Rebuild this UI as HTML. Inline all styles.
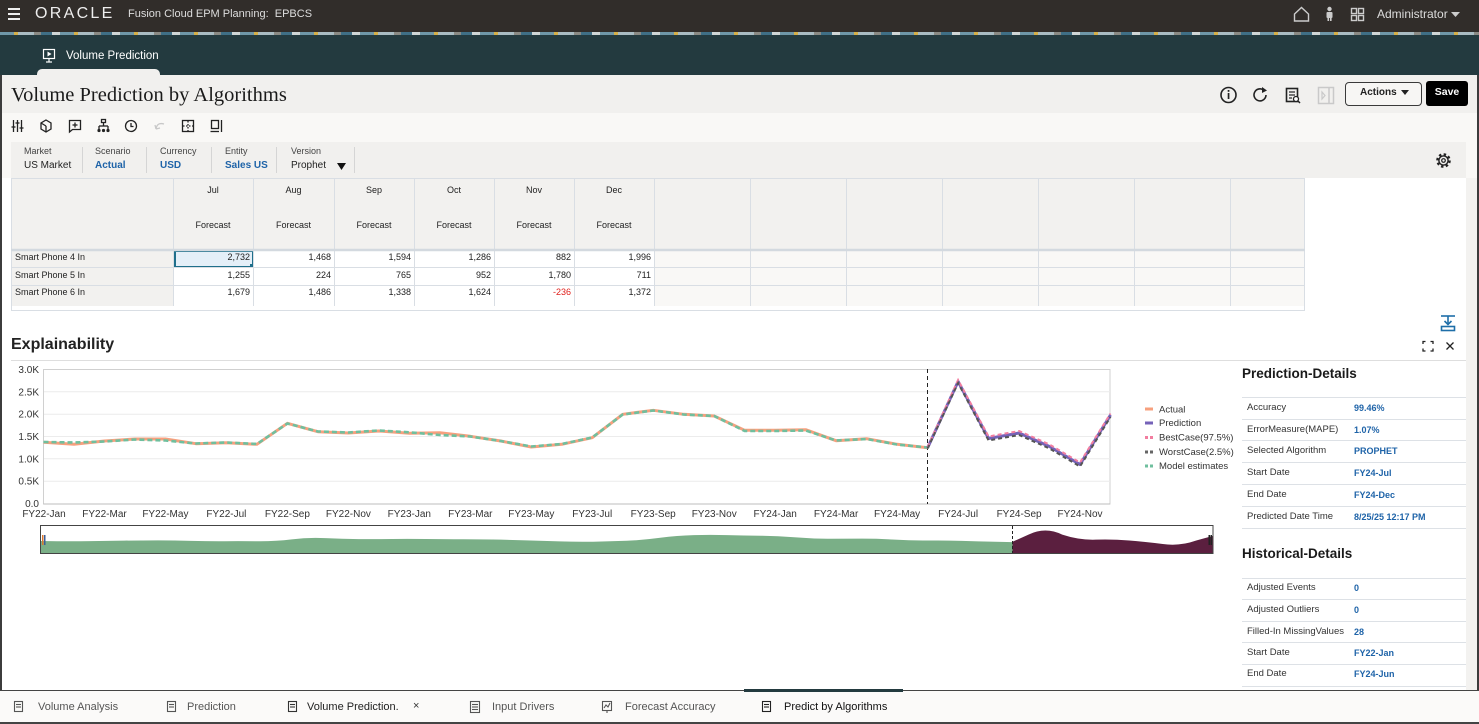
<!DOCTYPE html>
<html><head><meta charset="utf-8">
<style>
*{margin:0;padding:0;box-sizing:border-box}
body{width:1479px;height:724px;overflow:hidden;position:relative;background:#f9f8f6;font-family:"Liberation Sans",sans-serif;color:#222}
.a{position:absolute;white-space:nowrap}
.r{text-align:right}
.c{text-align:center}
.lb{font-size:9px;line-height:9px;color:#444}
.pv{font-size:10px;line-height:10px}
.bl{color:#1e63a8;font-weight:bold}
.g{font-size:9px;line-height:9px;color:#222}
.pl{font-size:9.5px;line-height:10px;color:#333}
.pvv{font-size:9px;line-height:10px;color:#1e63a8;font-weight:bold}
.bt{font-size:11px;line-height:11px;color:#555}
</style></head><body>

<!-- backgrounds -->
<div class="a" style="left:0;top:0;width:1479px;height:32px;background:#312d2a"></div>
<div class="a" style="left:0;top:32px;width:1479px;height:3px;background:repeating-linear-gradient(90deg,#6f97a8 0 14px,#d4b04a 14px 18px,#a9bcc3 18px 34px,#8a8a84 34px 41px,#3f6f86 41px 52px,#cfd6d6 52px 60px)"></div>
<div class="a" style="left:0;top:35px;width:1479px;height:40px;background:#233a3f"></div>
<div class="a" style="left:37px;top:69px;width:123px;height:6px;background:#f1f0ee;border-radius:5px 5px 0 0"></div>
<div class="a" style="left:0;top:75px;width:1479px;height:38px;background:#f1f0ee"></div>
<div class="a" style="left:0;top:113px;width:1479px;height:29px;background:#f9f8f6"></div>
<div class="a" style="left:11px;top:142px;width:1455px;height:36px;background:#f1f0ee"></div>
<div class="a" style="left:2px;top:178px;width:1464px;height:512px;background:#fff"></div>
<div class="a" style="left:1466px;top:178px;width:11px;height:512px;background:#f3f2f0"></div>
<div class="a" style="left:0;top:75px;width:2px;height:649px;background:#3c3c3c"></div>
<div class="a" style="left:1477px;top:75px;width:2px;height:649px;background:#3c3c3c"></div>

<!-- top bar text -->
<div class="a" style="left:35px;top:6px;font-size:16px;line-height:16px;letter-spacing:2.3px;color:#eee">ORACLE</div>
<div class="a" style="left:128px;top:8px;font-size:11px;line-height:12px;color:#ddd">Fusion Cloud EPM Planning:&nbsp; EPBCS</div>
<div class="a" style="left:1377px;top:8px;font-size:12px;line-height:12px;color:#ddd">Administrator</div>
<div class="a" style="left:66px;top:50px;font-size:11.5px;line-height:12px;color:#fff">Volume Prediction</div>

<!-- title -->
<div class="a" style="left:11px;top:85px;font-family:'Liberation Serif',serif;font-size:20.5px;line-height:20px;color:#1a1a1a">Volume Prediction by Algorithms</div>

<!-- buttons -->
<div class="a" style="left:1345px;top:82px;width:77px;height:24px;border:1px solid #3a3a3a;border-radius:4px;background:#f7f6f4"></div>
<div class="a" style="left:1360px;top:87px;font-size:10px;line-height:11px;font-weight:bold;color:#222">Actions</div>
<div class="a" style="left:1426px;top:81px;width:42px;height:25px;background:#000;border-radius:3px"></div>
<div class="a c" style="left:1426px;top:87px;width:42px;font-size:10.5px;line-height:11px;font-weight:bold;color:#fff">Save</div>

<!-- POV -->
<div class="a lb" style="left:24px;top:147px">Market</div>
<div class="a lb" style="left:95px;top:147px">Scenario</div>
<div class="a lb" style="left:160px;top:147px">Currency</div>
<div class="a lb" style="left:225px;top:147px">Entity</div>
<div class="a lb" style="left:291px;top:147px">Version</div>
<div class="a pv" style="left:24px;top:161px">US Market</div>
<div class="a pv bl" style="left:95px;top:161px">Actual</div>
<div class="a pv bl" style="left:160px;top:161px">USD</div>
<div class="a pv bl" style="left:225px;top:161px">Sales US</div>
<div class="a pv" style="left:291px;top:161px">Prophet</div>

<!-- grid backgrounds -->
<div class="a" style="left:11px;top:178px;width:1294px;height:72px;background:#f2f1ef"></div>
<div class="a" style="left:11px;top:250px;width:162px;height:56px;background:#f2f1ef"></div>
<div class="a" style="left:654px;top:250px;width:651px;height:56px;background:#f9f8f6"></div>
<div class="a" style="left:174px;top:250px;width:80px;height:18px;background:#e4eff8;border:2px solid #1f6f8b"></div>
<div class="a" style="left:250px;top:264px;width:4px;height:4px;background:#1f6f8b"></div>

<!-- grid header text -->
<div class="a g c" style="left:173px;top:186px;width:80px">Jul</div>
<div class="a g c" style="left:253px;top:186px;width:81px">Aug</div>
<div class="a g c" style="left:334px;top:186px;width:80px">Sep</div>
<div class="a g c" style="left:414px;top:186px;width:80px">Oct</div>
<div class="a g c" style="left:494px;top:186px;width:80px">Nov</div>
<div class="a g c" style="left:574px;top:186px;width:80px">Dec</div>
<div class="a g c" style="left:173px;top:221px;width:80px">Forecast</div>
<div class="a g c" style="left:253px;top:221px;width:81px">Forecast</div>
<div class="a g c" style="left:334px;top:221px;width:80px">Forecast</div>
<div class="a g c" style="left:414px;top:221px;width:80px">Forecast</div>
<div class="a g c" style="left:494px;top:221px;width:80px">Forecast</div>
<div class="a g c" style="left:574px;top:221px;width:80px">Forecast</div>

<!-- rows -->
<div class="a g" style="left:15px;top:253px">Smart Phone 4 In</div>
<div class="a g" style="left:15px;top:271px">Smart Phone 5 In</div>
<div class="a g" style="left:15px;top:288px">Smart Phone 6 In</div>

<div class="a g r" style="left:173px;top:253px;width:77px">2,732</div>
<div class="a g r" style="left:253px;top:253px;width:78px">1,468</div>
<div class="a g r" style="left:334px;top:253px;width:77px">1,594</div>
<div class="a g r" style="left:414px;top:253px;width:77px">1,286</div>
<div class="a g r" style="left:494px;top:253px;width:77px">882</div>
<div class="a g r" style="left:574px;top:253px;width:77px">1,996</div>

<div class="a g r" style="left:173px;top:271px;width:77px">1,255</div>
<div class="a g r" style="left:253px;top:271px;width:78px">224</div>
<div class="a g r" style="left:334px;top:271px;width:77px">765</div>
<div class="a g r" style="left:414px;top:271px;width:77px">952</div>
<div class="a g r" style="left:494px;top:271px;width:77px">1,780</div>
<div class="a g r" style="left:574px;top:271px;width:77px">711</div>

<div class="a g r" style="left:173px;top:288px;width:77px">1,679</div>
<div class="a g r" style="left:253px;top:288px;width:78px">1,486</div>
<div class="a g r" style="left:334px;top:288px;width:77px">1,338</div>
<div class="a g r" style="left:414px;top:288px;width:77px">1,624</div>
<div class="a g r" style="left:494px;top:288px;width:77px;color:#e0201c">-236</div>
<div class="a g r" style="left:574px;top:288px;width:77px">1,372</div>

<!-- Explainability -->
<div class="a" style="left:11px;top:337px;font-size:16px;line-height:16px;font-weight:bold;color:#222">Explainability</div>

<!-- right panel -->
<div class="a" style="left:1242px;top:367px;font-size:13.5px;line-height:14px;font-weight:bold;color:#1a1a1a">Prediction-Details</div>
<div class="a pl" style="left:1247px;top:403px">Accuracy</div>
<div class="a pl" style="left:1247px;top:425px">ErrorMeasure(MAPE)</div>
<div class="a pl" style="left:1247px;top:446px">Selected Algorithm</div>
<div class="a pl" style="left:1247px;top:468px">Start Date</div>
<div class="a pl" style="left:1247px;top:490px">End Date</div>
<div class="a pl" style="left:1247px;top:512px">Predicted Date Time</div>
<div class="a pvv" style="left:1354px;top:403px">99.46%</div>
<div class="a pvv" style="left:1354px;top:425px">1.07%</div>
<div class="a pvv" style="left:1354px;top:446px">PROPHET</div>
<div class="a pvv" style="left:1354px;top:468px">FY24-Jul</div>
<div class="a pvv" style="left:1354px;top:490px">FY24-Dec</div>
<div class="a pvv" style="left:1354px;top:512px">8/25/25 12:17 PM</div>

<div class="a" style="left:1242px;top:547px;font-size:13.5px;line-height:14px;font-weight:bold;color:#1a1a1a">Historical-Details</div>
<div class="a pl" style="left:1247px;top:583px">Adjusted Events</div>
<div class="a pl" style="left:1247px;top:605px">Adjusted Outliers</div>
<div class="a pl" style="left:1247px;top:627px">Filled-In MissingValues</div>
<div class="a pl" style="left:1247px;top:648px">Start Date</div>
<div class="a pl" style="left:1247px;top:669px">End Date</div>
<div class="a pvv" style="left:1354px;top:583px">0</div>
<div class="a pvv" style="left:1354px;top:605px">0</div>
<div class="a pvv" style="left:1354px;top:627px">28</div>
<div class="a pvv" style="left:1354px;top:648px">FY22-Jan</div>
<div class="a pvv" style="left:1354px;top:669px">FY24-Jun</div>

<!-- bottom tabs -->
<div class="a" style="left:0;top:690px;width:1479px;height:34px;background:#fbfaf9;border-top:1px solid #444;border-bottom:2px solid #444"></div>
<div class="a" style="left:744px;top:689px;width:159px;height:3px;background:#233a3f"></div>
<div class="a bt" style="left:38px;top:702px">Volume Analysis</div>
<div class="a bt" style="left:187px;top:702px">Prediction</div>
<div class="a bt" style="left:307px;top:702px;color:#222">Volume Prediction.</div>
<div class="a bt" style="left:413px;top:701px;color:#333">×</div>
<div class="a bt" style="left:492px;top:702px">Input Drivers</div>
<div class="a bt" style="left:625px;top:702px">Forecast Accuracy</div>
<div class="a bt" style="left:784px;top:702px;color:#111">Predict by Algorithms</div>

<!-- overlay SVG -->
<svg class="a" style="left:0;top:0" width="1479" height="724" xmlns="http://www.w3.org/2000/svg" font-family="Liberation Sans, sans-serif">
<!-- top bar icons -->
<g fill="#eee"><rect x="8" y="8" width="12" height="2"/><rect x="8" y="13" width="12" height="2"/><rect x="8" y="18" width="12" height="2"/></g>
<g fill="none" stroke="#ccc" stroke-width="1.4">
<path d="M1294.5,14 L1301.5,7.5 L1308.5,14 L1308.5,21 L1294.5,21 Z"/>
<rect x="1351.5" y="8.5" width="5" height="5"/><rect x="1358.5" y="8.5" width="5" height="5"/>
<rect x="1351.5" y="15.5" width="5" height="5"/><rect x="1358.5" y="15.5" width="5" height="5"/>
</g>
<g fill="#ccc"><circle cx="1329.5" cy="9" r="2.2"/><rect x="1326.5" y="12" width="6" height="6" rx="1"/><rect x="1327.5" y="17" width="1.6" height="4"/><rect x="1330" y="17" width="1.6" height="4"/>
<polygon points="1451,12 1460,12 1455.5,17"/></g>
<!-- tab icon -->
<g fill="none" stroke="#fff" stroke-width="1.2"><rect x="43.5" y="49.5" width="11" height="9"/><line x1="49" y1="58.5" x2="49" y2="62"/><line x1="46" y1="62" x2="52" y2="62"/></g>
<polygon points="47.5,51.5 47.5,56.5 51.5,54" fill="#fff"/>

<!-- header right icons -->
<g fill="none" stroke="#222" stroke-width="1.6">
<circle cx="1228.5" cy="95" r="7.5"/>
<path d="M1266,95 A6,6 0 1 1 1263.5,90"/>
<rect x="1286.5" y="88.5" width="11" height="13"/>
</g>
<rect x="1227.7" y="93" width="1.7" height="6" fill="#222"/><rect x="1227.7" y="90" width="1.7" height="1.8" fill="#222"/>
<polygon points="1262,87 1267,90.5 1262,93" fill="#222"/>
<g stroke="#222" stroke-width="1.2"><line x1="1289" y1="92" x2="1295" y2="92"/><line x1="1289" y1="95" x2="1295" y2="95"/><line x1="1289" y1="98" x2="1292" y2="98"/></g>
<circle cx="1296" cy="99" r="2.5" fill="#fff" stroke="#222" stroke-width="1.3"/><line x1="1298" y1="101" x2="1300" y2="103" stroke="#222" stroke-width="1.5"/>
<g fill="none" stroke="#c9c9c9" stroke-width="1.5"><rect x="1318.5" y="87.5" width="15" height="16"/><line x1="1329" y1="87.5" x2="1329" y2="103.5"/></g>
<polygon points="1322,92 1325,95.5 1322,99" fill="none" stroke="#c9c9c9" stroke-width="1.2"/>
<polygon points="1401,90 1409,90 1405,95" fill="#222"/>

<!-- toolbar icons -->
<g fill="none" stroke="#222" stroke-width="1.3">
<line x1="13.5" y1="120" x2="13.5" y2="132"/><line x1="17.5" y1="120" x2="17.5" y2="132"/><line x1="21.5" y1="120" x2="21.5" y2="132"/>
<line x1="11.5" y1="127" x2="15.5" y2="127"/><line x1="15.5" y1="123" x2="19.5" y2="123"/><line x1="19.5" y1="128" x2="23.5" y2="128"/>
<polygon points="46,120 51,123 51,129 46,132 41,129 41,123"/><line x1="46" y1="126" x2="46" y2="132"/><line x1="41" y1="123" x2="46" y2="126"/>
<path d="M69.5,120.5 H80.5 V129.5 H72.5 L69.5,132 Z"/><line x1="75" y1="122.5" x2="75" y2="127.5"/><line x1="72.5" y1="125" x2="77.5" y2="125"/>
<rect x="101.5" y="119.5" width="4" height="3"/><line x1="103.5" y1="122.5" x2="103.5" y2="126"/><line x1="99" y1="126" x2="108" y2="126"/><line x1="99" y1="126" x2="99" y2="129"/><line x1="108" y1="126" x2="108" y2="129"/>
<circle cx="131" cy="126" r="5.5"/><path d="M131,123 V126.5 H133.5"/>
<rect x="182.5" y="120.5" width="11" height="11"/><line x1="188" y1="121" x2="188" y2="131" stroke-dasharray="1.5,1.5"/><line x1="183" y1="126" x2="193" y2="126" stroke-dasharray="1.5,1.5"/>
<rect x="211.5" y="120.5" width="7" height="8"/><line x1="210.5" y1="131.5" x2="219" y2="131.5"/><line x1="221.5" y1="120" x2="221.5" y2="132"/>
</g>
<g fill="#222"><circle cx="99" cy="130.5" r="1.6"/><circle cx="103.5" cy="130.5" r="1.6"/><circle cx="108" cy="130.5" r="1.6"/></g>
<path d="M156,129 Q157,122 164,124 M156,129 L155,125 M156,129 L160,128" fill="none" stroke="#c8c8c8" stroke-width="1.3"/>

<!-- POV separators and caret -->
<g stroke="#d5d5d5" stroke-width="1"><line x1="82.5" y1="147" x2="82.5" y2="173"/><line x1="146.5" y1="147" x2="146.5" y2="173"/><line x1="211.5" y1="147" x2="211.5" y2="173"/><line x1="276.5" y1="147" x2="276.5" y2="173"/><line x1="354.5" y1="147" x2="354.5" y2="173"/></g>
<polygon points="337,163 346,163 341.5,170" fill="#111"/>
<!-- gear -->
<circle cx="1443.5" cy="160.5" r="5.8" fill="none" stroke="#222" stroke-width="3" stroke-dasharray="2.3,2.25"/>
<circle cx="1443.5" cy="160.5" r="4.6" fill="none" stroke="#222" stroke-width="1.4"/>
<circle cx="1443.5" cy="160.5" r="1.8" fill="none" stroke="#222" stroke-width="1.2"/>

<!-- grid lines -->
<g stroke="#d9dee4" stroke-width="1">
<line x1="11.5" y1="178" x2="11.5" y2="310"/>
<line x1="173.5" y1="178" x2="173.5" y2="306"/>
<line x1="253.5" y1="178" x2="253.5" y2="306"/>
<line x1="334.5" y1="178" x2="334.5" y2="306"/>
<line x1="414.5" y1="178" x2="414.5" y2="306"/>
<line x1="494.5" y1="178" x2="494.5" y2="306"/>
<line x1="574.5" y1="178" x2="574.5" y2="306"/>
<line x1="654.5" y1="178" x2="654.5" y2="306"/>
<line x1="750.5" y1="178" x2="750.5" y2="306"/>
<line x1="846.5" y1="178" x2="846.5" y2="306"/>
<line x1="942.5" y1="178" x2="942.5" y2="306"/>
<line x1="1038.5" y1="178" x2="1038.5" y2="306"/>
<line x1="1134.5" y1="178" x2="1134.5" y2="306"/>
<line x1="1230.5" y1="178" x2="1230.5" y2="306"/>
<line x1="1304.5" y1="178" x2="1304.5" y2="310"/>
<line x1="11" y1="178.5" x2="1305" y2="178.5"/>
<line x1="11" y1="267.5" x2="1305" y2="267.5"/>
<line x1="11" y1="285.5" x2="1305" y2="285.5"/>
<line x1="11" y1="310.5" x2="1305" y2="310.5"/>
</g>
<line x1="11" y1="250" x2="1305" y2="250" stroke="#d3d9df" stroke-width="2.5"/>

<!-- explainability icons -->
<g fill="none" stroke="#1e6ea8" stroke-width="1.6">
<line x1="1441" y1="316" x2="1455" y2="316"/><line x1="1448" y1="316" x2="1448" y2="324"/><polyline points="1444.5,321 1448,324.5 1451.5,321"/>
<rect x="1441.5" y="326.5" width="13" height="4"/>
</g>
<g fill="none" stroke="#222" stroke-width="1.3">
<path d="M1423,344 V341.5 H1425.5 M1430.5,341.5 H1433 V344 M1433,348.5 V351 H1430.5 M1425.5,351 H1423 V348.5"/>
<path d="M1446.5,342.5 L1453.5,349.5 M1453.5,342.5 L1446.5,349.5"/>
</g>
<line x1="11" y1="360.5" x2="1466" y2="360.5" stroke="#dedede"/>

<!-- right panel lines -->
<g stroke="#dde1e6" stroke-width="1">
<line x1="1242" y1="397.5" x2="1466" y2="397.5"/><line x1="1242" y1="419.5" x2="1466" y2="419.5"/><line x1="1242" y1="440.5" x2="1466" y2="440.5"/><line x1="1242" y1="462.5" x2="1466" y2="462.5"/><line x1="1242" y1="484.5" x2="1466" y2="484.5"/><line x1="1242" y1="506.5" x2="1466" y2="506.5"/><line x1="1242" y1="528.5" x2="1466" y2="528.5"/>
<line x1="1242" y1="578.5" x2="1466" y2="578.5"/><line x1="1242" y1="599.5" x2="1466" y2="599.5"/><line x1="1242" y1="621.5" x2="1466" y2="621.5"/><line x1="1242" y1="642.5" x2="1466" y2="642.5"/><line x1="1242" y1="664.5" x2="1466" y2="664.5"/><line x1="1242" y1="686.5" x2="1466" y2="686.5"/>
</g>

<!-- chart -->
<rect x="43.5" y="369.5" width="1066.5" height="134.5" fill="#fff" stroke="#d0d0d0"/>
<g stroke="#ececec"><line x1="44" y1="391.8" x2="1110" y2="391.8"/><line x1="44" y1="414.2" x2="1110" y2="414.2"/><line x1="44" y1="436.5" x2="1110" y2="436.5"/><line x1="44" y1="458.8" x2="1110" y2="458.8"/><line x1="44" y1="481.2" x2="1110" y2="481.2"/></g>
<line x1="43.5" y1="504" x2="1110" y2="504" stroke="#bdbdbd"/>
<g font-size="10" fill="#333" text-anchor="end">
<text x="39" y="373">3.0K</text><text x="39" y="395.3">2.5K</text><text x="39" y="417.7">2.0K</text><text x="39" y="440">1.5K</text><text x="39" y="462.3">1.0K</text><text x="39" y="484.7">0.5K</text><text x="39" y="507">0.0</text>
</g>
<g font-size="10" fill="#333" text-anchor="middle">
<text x="44" y="517">FY22-Jan</text><text x="104.5" y="517">FY22-Mar</text><text x="165.4" y="517">FY22-May</text><text x="226.4" y="517">FY22-Jul</text><text x="287.4" y="517">FY22-Sep</text><text x="348.4" y="517">FY22-Nov</text><text x="409.3" y="517">FY23-Jan</text><text x="470.3" y="517">FY23-Mar</text><text x="531.3" y="517">FY23-May</text><text x="592.2" y="517">FY23-Jul</text><text x="653.2" y="517">FY23-Sep</text><text x="714.2" y="517">FY23-Nov</text><text x="775.2" y="517">FY24-Jan</text><text x="836.1" y="517">FY24-Mar</text><text x="897.1" y="517">FY24-May</text><text x="958.1" y="517">FY24-Jul</text><text x="1019.1" y="517">FY24-Sep</text><text x="1080" y="517">FY24-Nov</text>
</g>
<line x1="927.5" y1="369" x2="927.5" y2="504" stroke="#222" stroke-dasharray="4,3"/>

<polyline fill="none" stroke="#f7a07e" stroke-width="3" stroke-linejoin="round" points="43.5,442.3 74,444.3 104.5,441 135,439 165.4,439 195.9,443.7 226.4,442.7 256.9,444.3 287.4,423.3 317.9,431.7 348.4,433 378.8,431 409.3,433.3 439.8,432.7 470.3,436.3 500.8,441 531.3,447 561.8,444.3 592.2,437.7 622.7,414.3 653.2,410.3 683.7,414.3 714.2,416 744.7,430.3 775.2,430.3 805.7,429.7 836.1,440.7 866.6,438.7 897.1,444.3 927.6,447.7"/>
<polyline fill="none" stroke="#6fbf9e" stroke-width="2.6" stroke-dasharray="5,3" points="43.5,442 74,442.5 104.5,441.5 135,439.5 165.4,440.5 195.9,443.5 226.4,442.5 256.9,444 287.4,423.5 317.9,431.5 348.4,432.5 378.8,430.5 409.3,432.3 439.8,435 470.3,436.5 500.8,441 531.3,446.5 561.8,444 592.2,437.5 622.7,414.5 653.2,410.5 683.7,414.5 714.2,416 744.7,431 775.2,431 805.7,430.5 836.1,440.5 866.6,439 897.1,444.5 927.6,447.5"/>
<polyline fill="none" stroke="#7562b8" stroke-width="3" stroke-linejoin="round" points="927.6,447.7 958.1,381.5 988.6,438.5 1019.1,433 1049.5,446.5 1080,464.5 1110.5,415"/>
<polyline fill="none" stroke="#f27ea0" stroke-width="2" stroke-dasharray="4,3" points="927.6,447 958.1,380 988.6,436.5 1019.1,431 1049.5,444.5 1080,462.5 1110.5,413.5"/>
<polyline fill="none" stroke="#555" stroke-width="2" stroke-dasharray="4,3" points="927.6,448.5 958.1,383 988.6,440.5 1019.1,435 1049.5,448.5 1080,466.5 1110.5,417"/>

<!-- legend -->
<rect x="1145" y="407.5" width="8" height="3" fill="#f7a07e"/>
<rect x="1145" y="421.5" width="8" height="3" fill="#7562b8"/>
<rect x="1145" y="436" width="3" height="3" fill="#f27ea0"/><rect x="1150" y="436" width="3" height="3" fill="#f27ea0"/>
<rect x="1145" y="450.5" width="3" height="3" fill="#666"/><rect x="1150" y="450.5" width="3" height="3" fill="#666"/>
<rect x="1145" y="464.5" width="3" height="3" fill="#6fbf9e"/><rect x="1150" y="464.5" width="3" height="3" fill="#6fbf9e"/>
<g font-size="9.5" fill="#333">
<text x="1159" y="412.5">Actual</text><text x="1159" y="426">Prediction</text><text x="1159" y="440.5">BestCase(97.5%)</text><text x="1159" y="455">WorstCase(2.5%)</text><text x="1159" y="469">Model estimates</text>
</g>

<!-- navigator -->
<rect x="40.5" y="525.5" width="1172.5" height="28" fill="#fff" stroke="#444"/>
<path fill="#7aaf87" d="M41,553 L41,541 L57.25,541.2 Q74,541.4 90.75,541.1 Q107.5,540.8 124.25,540.6 Q141,540.4 157.75,540.4 Q174.5,540.4 191.25,540.85 Q208,541.3 224.75,541.2 Q241.5,541.1 258.25,541.25 Q275,541.4 291.75,539.35 Q308.5,537.3 325.25,538.15 Q342,539 358.75,539.1 Q375.5,539.2 392.25,539 Q409,538.8 425.75,539.05 Q442.5,539.3 459.25,539.25 Q476,539.2 492.75,539.55 Q509.5,539.9 526.25,540.35 Q543,540.8 559.75,541.4 Q576.5,542 593.25,541.7 Q610,541.4 626.75,540.75 Q643.5,540.1 660.25,537.8 Q677,535.5 693.75,535.1 Q710.5,534.7 727.25,535.1 Q744,535.5 760.75,535.7 Q777.5,535.9 794.25,537.3 Q811,538.7 827.75,538.7 Q844.5,538.7 861.25,538.65 Q878,538.6 894.75,539.65 Q911.5,540.7 928.25,540.5 Q945,540.3 961.75,540.85 Q978.5,541.4 995.25,541.75 L1012.5,542.1 L1012.5,553 Z"/>
<path fill="#5b1f3f" d="M1012.5,553 L1012.5,541.8 L1028.75,534.5 Q1045.5,526.5 1062.25,534.65 Q1079,540.2 1095.75,539.65 Q1112.5,539.1 1129.25,540.5 Q1146,541.9 1162.75,544 Q1179.5,546.5 1196.25,540.55 L1212.5,536 L1212.5,553 Z"/>
<line x1="1012.5" y1="526" x2="1012.5" y2="553" stroke="#222" stroke-dasharray="3,2"/>
<rect x="42" y="535" width="1.5" height="10" fill="#d9772f"/><rect x="44" y="535" width="1.5" height="10" fill="#3b5f9a"/>
<rect x="1208.5" y="535" width="1.5" height="10" fill="#222"/><rect x="1210.5" y="535" width="1.5" height="10" fill="#222"/>

<!-- bottom tab icons -->
<g fill="none" stroke="#555" stroke-width="1.1">
<rect x="14.5" y="701.5" width="8" height="10"/><line x1="16" y1="704.5" x2="21" y2="704.5"/><line x1="16" y1="707" x2="21" y2="707"/>
<rect x="167.5" y="701.5" width="8" height="10"/><line x1="169" y1="704.5" x2="174" y2="704.5"/><line x1="169" y1="707" x2="174" y2="707"/>
<rect x="288.5" y="701.5" width="8" height="10" stroke="#333"/><line x1="290" y1="704.5" x2="295" y2="704.5" stroke="#333"/><line x1="290" y1="707" x2="295" y2="707" stroke="#333"/>
<rect x="470.5" y="701.5" width="9" height="11"/><line x1="472" y1="704.5" x2="478" y2="704.5"/><line x1="472" y1="707" x2="478" y2="707"/><line x1="472" y1="709.5" x2="478" y2="709.5"/>
<rect x="602.5" y="701.5" width="9" height="9"/><path d="M604,708 L606,705 L608,707 L610,703"/><line x1="607" y1="710.5" x2="607" y2="713"/>
<rect x="762.5" y="701.5" width="8" height="10" stroke="#222"/><line x1="764" y1="704.5" x2="769" y2="704.5" stroke="#222"/><line x1="764" y1="707" x2="769" y2="707" stroke="#222"/>
</g>
</svg>
</body></html>
